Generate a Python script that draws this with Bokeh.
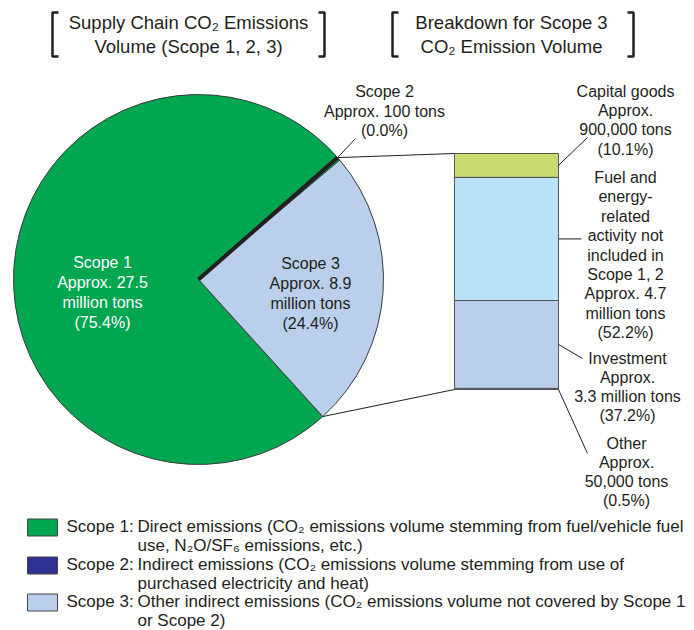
import math
from bokeh.plotting import figure
from bokeh.models import Range1d
from bokeh.core.properties import value
from bokeh.embed import file_html
from bokeh.resources import INLINE

# ---------------- data ----------------
scope_names = ["Scope 1", "Scope 2", "Scope 3"]
scope_pct = [75.4, 0.0, 24.4]
scope_amounts = ["Approx. 27.5\nmillion tons", "Approx. 100 tons", "Approx. 8.9\nmillion tons"]
scope_colors = ["#00a650", "#2e3192", "#b9cfeb"]
scope2_pie_color = "#231f20"

s3_cats = ["Other", "Investment", "Fuel and energy-related activity not included in Scope 1, 2", "Capital goods"]
s3_pct = [0.5, 37.2, 52.2, 10.1]
s3_colors = ["#f0b6c4", "#b9cfeb", "#bae3f7", "#c9dc72"]

title_left = ["Supply Chain CO\u2082 Emissions", "Volume (Scope 1, 2, 3)"]
title_right = ["Breakdown for Scope 3", "CO\u2082 Emission Volume"]

legend_heads = ["Scope 1:", "Scope 2:", "Scope 3:"]
legend_texts = [
    ["Direct emissions (CO\u2082 emissions volume stemming from fuel/vehicle fuel",
     "use, N\u2082O/SF\u2086 emissions, etc.)"],
    ["Indirect emissions (CO\u2082 emissions volume stemming from use of",
     "purchased electricity and heat)"],
    ["Other indirect emissions (CO\u2082 emissions volume not covered by Scope 1",
     "or Scope 2)"],
]

FONT = "Liberation Sans"
TXT = "#231f20"

# ---------------- figure (data units = page pixels, y flipped) ----------------
W, H = 694, 630
def Y(py):
    return H - py

BAR_BOTTOM, BAR_TOP = Y(389), Y(153)
bar_scale = (BAR_TOP - BAR_BOTTOM) / 100.0

p = figure(width=W, height=H, x_range=Range1d(0, W), y_range=Range1d(0, H),
           output_backend="svg", toolbar_location=None, min_border=0,
           background_fill_color="white", border_fill_color="white")
p.extra_y_ranges = {"bar": Range1d((0 - BAR_BOTTOM) / bar_scale, (H - BAR_BOTTOM) / bar_scale)}
p.axis.visible = False
p.xgrid.visible = False
p.ygrid.visible = False
p.outline_line_color = None

def bar_y(v):
    return BAR_BOTTOM + v * bar_scale

def label(x, py_first, lines, size="16px", color=TXT, spacing=19.5, align="center"):
    ys = [Y(py_first + i * spacing) for i in range(len(lines))]
    p.text(x=[x] * len(lines), y=ys, text=lines, text_font=value(FONT),
           text_font_size=size, text_color=color, text_align=align,
           text_baseline="middle")

# ---------------- pie ----------------
cx, cy, R = 198, Y(279), 185
total = sum(scope_pct)
spans = [v / total * 360 for v in scope_pct]
s3_start = -47.8
s3_end = s3_start + spans[2]
s2_end = s3_end + spans[1]
s1_end = s3_start + 360
rad = math.radians

p.wedge(x=[cx, cx], y=[cy, cy], radius=R,
        start_angle=[rad(s2_end), rad(s3_start)], end_angle=[rad(s1_end), rad(s3_end)],
        fill_color=[scope_colors[0], scope_colors[2]],
        line_color="#3a3a3a", line_width=1)
a2 = rad(s3_end + 1.0)
p.segment(x0=[cx], y0=[cy], x1=[cx + R * math.cos(a2)], y1=[cy + R * math.sin(a2)],
          line_width=4, line_color=scope2_pie_color)

# ---------------- stacked bar ----------------
bottoms, tops = [], []
acc = 0.0
for v in s3_pct:
    bottoms.append(acc)
    acc += v
    tops.append(acc)
BAR_L, BAR_R = 454, 558
p.vbar(x=[(BAR_L + BAR_R) / 2] * 4, width=BAR_R - BAR_L, bottom=bottoms, top=tops,
       y_range_name="bar", fill_color=s3_colors, line_color="#555555", line_width=1)

# connecting lines pie -> bar
a_bot = rad(s3_start)
p.segment(x0=[cx + R * math.cos(a2), cx + R * math.cos(a_bot)],
          y0=[cy + R * math.sin(a2), cy + R * math.sin(a_bot)],
          x1=[BAR_L, BAR_L], y1=[bar_y(tops[-1]), bar_y(bottoms[0])],
          line_color="#231f20", line_width=1)

# leader lines
mid = [(b + t) / 2 for b, t in zip(bottoms, tops)]
p.segment(
    x0=[cx + R * math.cos(a2), BAR_R, BAR_R, BAR_R, BAR_R],
    y0=[cy + R * math.sin(a2), bar_y(mid[3]), bar_y(mid[2]), bar_y(mid[1]), bar_y(bottoms[0])],
    x1=[355, 587, 581, 582, 587],
    y1=[Y(138), Y(137), bar_y(mid[2]), Y(358), Y(453)],
    line_color="#231f20", line_width=1)

# ---------------- labels ----------------
label(102, 262, [scope_names[0]] + scope_amounts[0].split("\n") + ["(%.1f%%)" % scope_pct[0]], color="white", spacing=20)
label(310, 263, [scope_names[2]] + scope_amounts[2].split("\n") + ["(%.1f%%)" % scope_pct[2]], spacing=20)
label(384, 91, [scope_names[1], scope_amounts[1], "(%.1f%%)" % scope_pct[1]])

label(625, 91, ["Capital goods", "Approx.", "900,000 tons", "(%.1f%%)" % s3_pct[3]], spacing=19.2)
label(625, 177, ["Fuel and", "energy-", "related", "activity not", "included in", "Scope 1, 2",
                 "Approx. 4.7", "million tons", "(%.1f%%)" % s3_pct[2]], spacing=19.4)
label(627, 358, ["Investment", "Approx.", "3.3 million tons", "(%.1f%%)" % s3_pct[1]], spacing=19)
label(626, 443, ["Other", "Approx.", "50,000 tons", "(%.1f%%)" % s3_pct[0]], spacing=19)

# ---------------- titles with brackets ----------------
label(188, 22, title_left, size="18.5px", spacing=24)
label(511, 22, title_right, size="18.5px", spacing=24)
bx = [[58, 52, 52, 58], [318, 324, 324, 318], [398, 392, 392, 398], [627, 633, 633, 627]]
by = [[Y(12), Y(12), Y(56), Y(56)]] * 4
p.multi_line(xs=bx, ys=by, line_color="#231f20", line_width=2.5)

# ---------------- legend ----------------
leg_top = [526, 564, 601]
for i in range(3):
    p.rect(x=[42], y=[Y(leg_top[i] + 1)], width=30, height=17, fill_color=scope_colors[i],
           line_color="#444444", line_width=1)
    label(66, leg_top[i], [legend_heads[i]], align="left", size="17px")
    label(137, leg_top[i], legend_texts[i], align="left", spacing=19, size="17px")

open("out.html", "w").write(file_html(p, INLINE))
